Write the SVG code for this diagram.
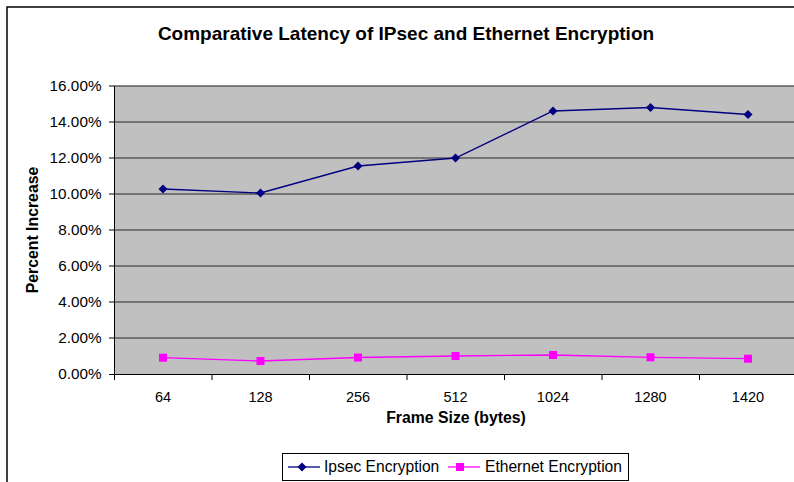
<svg xmlns="http://www.w3.org/2000/svg" width="794" height="482" viewBox="0 0 794 482">
  <style>
    text { font-family: "Liberation Sans", Arial, sans-serif; fill: #000; }
    .title { font-size: 19px; font-weight: bold; text-anchor: middle; }
    .axis-title { font-size: 15.8px; font-weight: bold; text-anchor: middle; }
    .ytick { font-size: 15.3px; text-anchor: end; }
    .xtick { font-size: 14.5px; text-anchor: middle; }
    .legend { font-size: 15.6px; }
    .grid { stroke: #5a5a5a; stroke-width: 1.5; }
    .axis { stroke: #000; stroke-width: 1; fill: none; }
    .ipsec { stroke: #000080; stroke-width: 1.3; fill: none; }
    .eth { stroke: #ff00ff; stroke-width: 1.3; fill: none; }
  </style>
  <defs>
    <path id="diamond" d="M0,-4.5 L4.5,0 L0,4.5 L-4.5,0 Z" fill="#000080"/>
    <rect id="square" x="-4" y="-4" width="8" height="8" fill="#ff00ff"/>
  </defs>

  <!-- chart area -->
  <rect x="0" y="0" width="794" height="482" fill="#fff"/>
  <rect x="7" y="7" width="800" height="490" fill="#fff" stroke="#000" stroke-width="1.5"/>

  <text class="title" x="406" y="40">Comparative Latency of IPsec and Ethernet Encryption</text>

  <!-- plot area -->
  <g id="plot">
    <rect x="114.5" y="86" width="690" height="288.5" fill="#c0c0c0"/>
    <g class="grid">
      <line x1="114.5" y1="86" x2="794" y2="86"/>
      <line x1="114.5" y1="122" x2="794" y2="122"/>
      <line x1="114.5" y1="158" x2="794" y2="158"/>
      <line x1="114.5" y1="194" x2="794" y2="194"/>
      <line x1="114.5" y1="230" x2="794" y2="230"/>
      <line x1="114.5" y1="266" x2="794" y2="266"/>
      <line x1="114.5" y1="302" x2="794" y2="302"/>
      <line x1="114.5" y1="338" x2="794" y2="338"/>
    </g>
    <!-- axes -->
    <path class="axis" d="M114.5,86 V374.5 H794"/>
    <g class="axis">
      <line x1="109" y1="86" x2="114.5" y2="86"/>
      <line x1="109" y1="122" x2="114.5" y2="122"/>
      <line x1="109" y1="158" x2="114.5" y2="158"/>
      <line x1="109" y1="194" x2="114.5" y2="194"/>
      <line x1="109" y1="230" x2="114.5" y2="230"/>
      <line x1="109" y1="266" x2="114.5" y2="266"/>
      <line x1="109" y1="302" x2="114.5" y2="302"/>
      <line x1="109" y1="338" x2="114.5" y2="338"/>
      <line x1="109" y1="374.5" x2="114.5" y2="374.5"/>
      <line x1="114.5" y1="374.5" x2="114.5" y2="380"/>
      <line x1="212" y1="374.5" x2="212" y2="380"/>
      <line x1="309.5" y1="374.5" x2="309.5" y2="380"/>
      <line x1="407" y1="374.5" x2="407" y2="380"/>
      <line x1="504.5" y1="374.5" x2="504.5" y2="380"/>
      <line x1="602" y1="374.5" x2="602" y2="380"/>
      <line x1="699.5" y1="374.5" x2="699.5" y2="380"/>
    </g>
  </g>

  <!-- y axis labels -->
  <g id="y-labels">
    <text class="ytick" x="101.5" y="91">16.00%</text>
    <text class="ytick" x="101.5" y="127">14.00%</text>
    <text class="ytick" x="101.5" y="163">12.00%</text>
    <text class="ytick" x="101.5" y="199">10.00%</text>
    <text class="ytick" x="101.5" y="235">8.00%</text>
    <text class="ytick" x="101.5" y="271">6.00%</text>
    <text class="ytick" x="101.5" y="307">4.00%</text>
    <text class="ytick" x="101.5" y="343">2.00%</text>
    <text class="ytick" x="101.5" y="379">0.00%</text>
  </g>
  <text class="axis-title" transform="translate(38,230) rotate(-90)">Percent Increase</text>

  <!-- x axis labels -->
  <g id="x-labels">
    <text class="xtick" x="163" y="402">64</text>
    <text class="xtick" x="260.5" y="402">128</text>
    <text class="xtick" x="358" y="402">256</text>
    <text class="xtick" x="455.5" y="402">512</text>
    <text class="xtick" x="553" y="402">1024</text>
    <text class="xtick" x="650.5" y="402">1280</text>
    <text class="xtick" x="748" y="402">1420</text>
  </g>
  <text class="axis-title" x="456" y="423">Frame Size (bytes)</text>

  <!-- data series -->
  <g id="connectors">
    <polyline class="ipsec" points="163,189 260.5,193 358,166 455.5,158 553,111 650.5,107.5 748,114.5"/>
    <polyline class="eth" points="163,357.7 260.5,361 358,357.5 455.5,356 553,355 650.5,357.3 748,358.7"/>
  </g>
  <g id="ipsec-markers">
    <use href="#diamond" x="163" y="189"/>
    <use href="#diamond" x="260.5" y="193"/>
    <use href="#diamond" x="358" y="166"/>
    <use href="#diamond" x="455.5" y="158"/>
    <use href="#diamond" x="553" y="111"/>
    <use href="#diamond" x="650.5" y="107.5"/>
    <use href="#diamond" x="748" y="114.5"/>
  </g>
  <g id="eth-markers">
    <use href="#square" x="163" y="357.7"/>
    <use href="#square" x="260.5" y="361"/>
    <use href="#square" x="358" y="357.5"/>
    <use href="#square" x="455.5" y="356"/>
    <use href="#square" x="553" y="355"/>
    <use href="#square" x="650.5" y="357.3"/>
    <use href="#square" x="748" y="358.7"/>
  </g>

  <!-- legend -->
  <g id="legend">
    <rect x="282.5" y="453.5" width="346" height="27" fill="#fff" stroke="#000" stroke-width="1"/>
    <line class="ipsec" x1="288" y1="467" x2="320" y2="467"/>
    <use href="#diamond" x="302" y="467"/>
    <text class="legend" x="324" y="472">Ipsec Encryption</text>
    <line class="eth" x1="448" y1="467" x2="480" y2="467"/>
    <use href="#square" x="460" y="467"/>
    <text class="legend" x="485" y="472">Ethernet Encryption</text>
  </g>
</svg>
